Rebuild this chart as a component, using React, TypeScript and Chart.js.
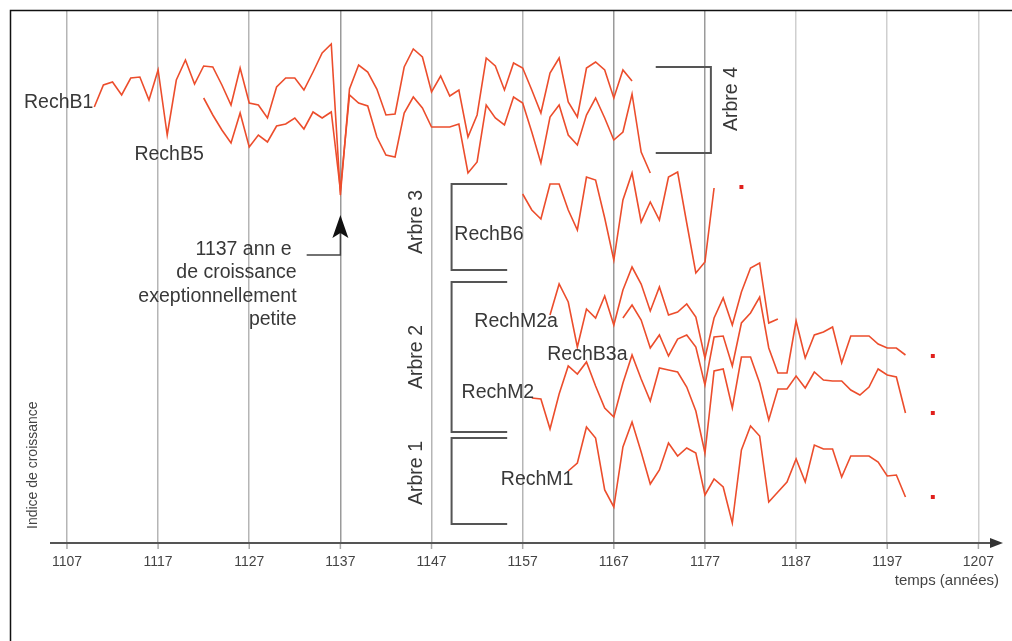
import React, { useEffect, useRef } from "react";
import { Chart, registerables } from "chart.js";

Chart.register(...registerables);

// ---- data (growth index, arbitrary units, series stacked with offsets) ----
const tickYears = [1107, 1117, 1127, 1137, 1147, 1157, 1167, 1177, 1187, 1197, 1207];

const rechB1Start = 1110;
const rechB1 = [436, 458, 461, 448, 465, 466, 443, 473, 408, 463, 483, 459, 477, 476, 458, 438, 475, 440, 438, 425, 456, 465, 465, 453, 471, 490, 499, 348, 454, 478, 471, 454, 428, 429, 476, 494, 486, 451, 467, 447, 453, 406, 428, 485, 477, 453, 480, 475, 453, 430, 470, 485, 441, 426, 475, 481, 473, 445, 473, 462];

const rechB5Start = 1122;
const rechB5 = [445, 428, 413, 400, 430, 396, 408, 401, 417, 419, 425, 414, 431, 425, 431, 353, 448, 440, 437, 406, 388, 386, 430, 446, 435, 416, 416, 416, 419, 370, 381, 438, 425, 418, 446, 440, 411, 380, 426, 438, 408, 398, 428, 445, 425, 403, 411, 449, 391, 370];

const rechB6Start = 1157;
const rechB6 = [349, 333, 324, 359, 359, 333, 313, 366, 363, 325, 283, 343, 370, 321, 341, 323, 366, 371, 320, 270, 281, 355];

const rechM2aStart = 1160;
const rechM2a = [228, 259, 241, 196, 234, 225, 247, 218, 253, 276, 259, 232, 256, 228, 231, 239, 226, 185, 225, 245, 218, 251, 275, 280, 220, 224];

const rechB3aStart = 1168;
const rechB3a = [225, 238, 223, 195, 208, 187, 204, 208, 196, 158, 206, 207, 177, 220, 230, 246, 195, 170, 170, 222, 185, 208, 211, 216, 180, 207, 207, 207, 199, 195, 195, 188];

const rechM2Start = 1158;
const rechM2 = [145, 144, 114, 149, 177, 169, 181, 157, 135, 126, 160, 188, 164, 142, 175, 173, 171, 156, 132, 90, 172, 174, 135, 186, 186, 160, 123, 154, 154, 167, 155, 171, 163, 162, 162, 153, 148, 156, 174, 168, 166, 130];

const rechM1Start = 1162;
const rechM1 = [72, 80, 116, 105, 53, 36, 96, 121, 91, 59, 73, 100, 87, 95, 90, 48, 64, 56, 20, 93, 117, 107, 41, 51, 61, 84, 61, 98, 94, 94, 66, 87, 87, 87, 81, 67, 68, 46];

const dotYears = [1181, 1202, 1202, 1202];
const dotValues = [356, 187, 130, 46];

// ---- annotations (data coordinates) ----
const seriesLabels = [
  { text: "RechB1", x: 1109.9, y: 440, align: "right" },
  { text: "RechB5", x: 1114.4, y: 388, align: "left" },
  { text: "RechB6", x: 1149.5, y: 308, align: "left" },
  { text: "RechM2a", x: 1151.7, y: 221, align: "left" },
  { text: "RechB3a", x: 1159.7, y: 188, align: "left" },
  { text: "RechM2", x: 1150.3, y: 150, align: "left" },
  { text: "RechM1", x: 1154.6, y: 63, align: "left" },
];
const noteLines = ["1137 ann e", "de croissance", "exeptionnellement", "petite"];
const noteLineValues = [293, 270, 246, 223];
const treeLabels = [
  { text: "Arbre 4", x: 1179.9, y: 444 },
  { text: "Arbre 3", x: 1145.4, y: 321 },
  { text: "Arbre 2", x: 1145.4, y: 186 },
  { text: "Arbre 1", x: 1145.4, y: 70 },
];
// brackets: [xOpen, xSpine, yTop, yBottom]
const brackets = [
  [1171.6, 1177.65, 476, 390],
  [1155.3, 1149.2, 359, 273],
  [1155.3, 1149.2, 261, 111],
  [1155.3, 1149.2, 105, 19],
];

const FONT = '"Liberation Sans", Arial, Helvetica, sans-serif';
const LINE_COLOR = "#ec4d2c";

function pts(start: number, vals: number[]) {
  return vals.map((v, i) => ({ x: start + i, y: v }));
}

const decorPlugin = {
  id: "decor",
  afterDatasetsDraw(chart: any) {
    const ctx = chart.ctx as CanvasRenderingContext2D;
    const xs = chart.scales.x;
    const ys = chart.scales.y;
    const px = (v: number) => xs.getPixelForValue(v);
    const py = (v: number) => ys.getPixelForValue(v);
    const area = chart.chartArea;
    ctx.save();

    // frame
    ctx.strokeStyle = "#111";
    ctx.lineWidth = 1.5;
    ctx.beginPath();
    ctx.moveTo(10.5, 641);
    ctx.lineTo(10.5, 10.5);
    ctx.lineTo(1012, 10.5);
    ctx.stroke();

    // axis line with arrow
    const axisY = area.bottom;
    ctx.strokeStyle = "#555";
    ctx.lineWidth = 2;
    ctx.beginPath();
    ctx.moveTo(area.left, axisY);
    ctx.lineTo(area.right - 10, axisY);
    ctx.stroke();
    ctx.fillStyle = "#333";
    ctx.beginPath();
    ctx.moveTo(area.right, axisY);
    ctx.lineTo(area.right - 13, axisY - 5);
    ctx.lineTo(area.right - 13, axisY + 5);
    ctx.closePath();
    ctx.fill();

    // tick stubs and labels
    ctx.strokeStyle = "#aaa";
    ctx.lineWidth = 1.5;
    ctx.fillStyle = "#444";
    ctx.font = `14px ${FONT}`;
    ctx.textAlign = "center";
    ctx.textBaseline = "middle";
    tickYears.forEach((t) => {
      const x = px(t);
      ctx.beginPath();
      ctx.moveTo(x, axisY + 1);
      ctx.lineTo(x, axisY + 6);
      ctx.stroke();
      ctx.fillText(String(t), x, axisY + 19);
    });
    ctx.textAlign = "right";
    ctx.font = `15px ${FONT}`;
    ctx.fillText("temps (années)", area.right - 4, axisY + 38);

    // y title
    ctx.save();
    ctx.translate(33, axisY - 14);
    ctx.rotate(-Math.PI / 2);
    ctx.textAlign = "left";
    ctx.font = `14px ${FONT}`;
    ctx.fillStyle = "#444";
    ctx.fillText("Indice de croissance", 0, 0);
    ctx.restore();

    // series labels
    ctx.fillStyle = "#383838";
    ctx.font = `19.5px ${FONT}`;
    seriesLabels.forEach((l) => {
      ctx.textAlign = l.align as CanvasTextAlign;
      ctx.fillText(l.text, px(l.x), py(l.y));
    });

    // note
    ctx.textAlign = "right";
    noteLines.forEach((t, i) => {
      ctx.fillText(t, px(1132.2) - (i === 0 ? 5 : 0), py(noteLineValues[i]));
    });

    // tree labels (rotated)
    treeLabels.forEach((l) => {
      ctx.save();
      ctx.translate(px(l.x), py(l.y));
      ctx.rotate(-Math.PI / 2);
      ctx.textAlign = "center";
      ctx.fillText(l.text, 0, 0);
      ctx.restore();
    });

    // brackets
    ctx.strokeStyle = "#555";
    ctx.lineWidth = 2;
    brackets.forEach(([xo, xs2, yt, yb]) => {
      ctx.beginPath();
      ctx.moveTo(px(xo), py(yt));
      ctx.lineTo(px(xs2), py(yt));
      ctx.lineTo(px(xs2), py(yb));
      ctx.lineTo(px(xo), py(yb));
      ctx.stroke();
    });

    // arrow to 1137
    const ax = px(1137);
    ctx.strokeStyle = "#444";
    ctx.lineWidth = 1.5;
    ctx.beginPath();
    ctx.moveTo(px(1133.3), py(288));
    ctx.lineTo(ax, py(288));
    ctx.lineTo(ax, py(310));
    ctx.stroke();
    ctx.fillStyle = "#111";
    ctx.beginPath();
    ctx.moveTo(ax, py(328));
    ctx.lineTo(ax - 8, py(305));
    ctx.lineTo(ax, py(310));
    ctx.lineTo(ax + 8, py(305));
    ctx.closePath();
    ctx.fill();

    ctx.restore();
  },
};

const gridColor = (v: number) => {
  if (v === 1137 || v === 1167 || v === 1177) return "#9a9a9a";
  if (v >= 1187) return "#cfcfcf";
  return "#b5b5b5";
};

export default function App() {
  const ref = useRef<HTMLCanvasElement>(null);
  useEffect(() => {
    document.body.style.margin = "0";
    if (!ref.current) return;
    const line = (label: string, start: number, vals: number[]) => ({
      type: "line" as const,
      label,
      data: pts(start, vals),
      borderColor: LINE_COLOR,
      borderWidth: 1.6,
      pointRadius: 0,
      tension: 0,
      fill: false,
    });
    const chart = new Chart(ref.current, {
      type: "line",
      data: {
        datasets: [
          line("RechB1", rechB1Start, rechB1),
          line("RechB5", rechB5Start, rechB5),
          line("RechB6", rechB6Start, rechB6),
          line("RechM2a", rechM2aStart, rechM2a),
          line("RechB3a", rechB3aStart, rechB3a),
          line("RechM2", rechM2Start, rechM2),
          line("RechM1", rechM1Start, rechM1),
          {
            type: "scatter" as const,
            label: "fin",
            data: dotYears.map((x, i) => ({ x, y: dotValues[i] })),
            pointStyle: "rect",
            pointRadius: 2.8,
            backgroundColor: "#e0201c",
            borderWidth: 0,
            showLine: false,
          } as any,
        ],
      },
      options: {
        animation: false,
        responsive: false,
        maintainAspectRatio: false,
        layout: { padding: { left: 50, right: 9, top: 10, bottom: 98 } },
        plugins: { legend: { display: false }, tooltip: { enabled: false } },
        scales: {
          x: {
            type: "linear",
            min: 1105.14,
            max: 1209.7,
            display: true,
            ticks: { display: false },
            border: { display: false },
            grid: {
              drawTicks: false,
              lineWidth: 1.5,
              color: (c: any) => gridColor(c.tick ? c.tick.value : 0),
            },
            afterBuildTicks: (axis: any) => {
              axis.ticks = tickYears.map((v) => ({ value: v }));
            },
          },
          y: { type: "linear", display: false, min: 0, max: 533 },
        },
      },
      plugins: [decorPlugin],
    });
    return () => chart.destroy();
  }, []);
  return (
    <div style={{ width: 1012, height: 641 }}>
      <canvas ref={ref} width={1012} height={641} style={{ width: 1012, height: 641, display: "block" }} />
    </div>
  );
}
